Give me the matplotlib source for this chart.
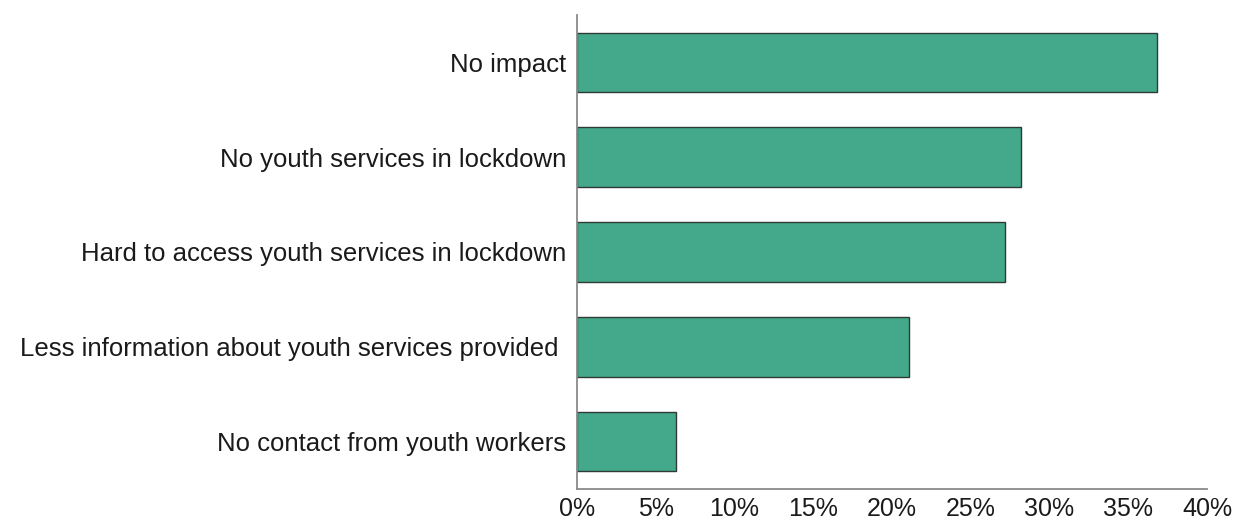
import matplotlib
matplotlib.use("Agg")
import matplotlib.pyplot as plt
from matplotlib.ticker import FuncFormatter

categories = [
    "No impact",
    "No youth services in lockdown",
    "Hard to access youth services in lockdown",
    "Less information about youth services provided ",
    "No contact from youth workers",
]
values = [36.8, 28.2, 27.2, 21.1, 6.3]
x_ticks = [0, 5, 10, 15, 20, 25, 30, 35, 40]

plt.rcParams["font.family"] = ["Liberation Sans", "DejaVu Sans"]

fig = plt.figure(figsize=(12.37, 5.2), dpi=100)
ax = fig.add_axes([577 / 1237, 31 / 520, 630 / 1237, 474 / 520])

ypos = list(range(len(categories)))[::-1]
ax.barh(ypos, values, height=0.63, color="#44A98A", edgecolor="#2f3a36", linewidth=1.0)

ax.set_xlim(0, 40)
ax.set_ylim(-0.5, 4.5)
ax.set_yticks(ypos)
ax.set_yticklabels(categories, fontsize=18.5, color="#1a1a1a")
ax.set_xticks(x_ticks)
ax.xaxis.set_major_formatter(FuncFormatter(lambda v, p: f"{int(v)}%"))
ax.tick_params(axis="x", length=0, pad=5.5, labelsize=18, labelcolor="#1a1a1a")
ax.tick_params(axis="y", length=0, pad=8)

for side in ("top", "right"):
    ax.spines[side].set_visible(False)
for side in ("left", "bottom"):
    ax.spines[side].set_color("#8a8a8a")
    ax.spines[side].set_linewidth(1.3)

fig.savefig("out.png", dpi=100)
